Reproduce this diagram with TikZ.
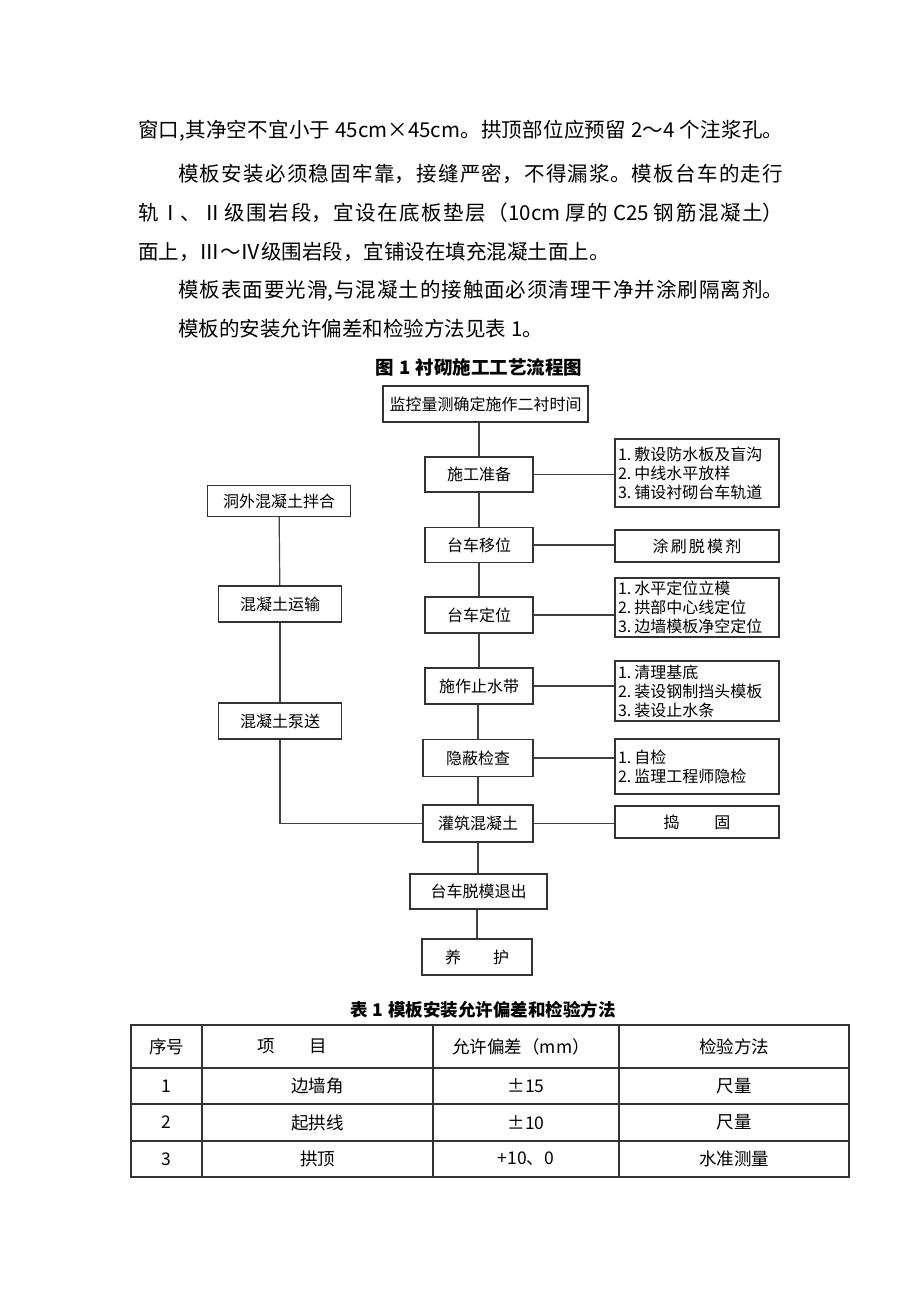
\documentclass[tikz,border=0pt]{standalone}
\usepackage{fontspec}
\setmainfont{Noto Sans CJK SC}
\usetikzlibrary{positioning}
\XeTeXlinebreaklocale "zh"
\XeTeXlinebreakskip=0pt plus 2pt

\newcommand{\fullline}[2]{\parbox{#1}{\parfillskip=0pt\relax #2}}
\newcommand{\gap}{\hspace{5pt}}

\begin{document}
\begin{tikzpicture}[
        x=1pt, y=-1pt,
        box/.style={rectangle, draw=black!80, line width=1.2pt, align=center,
            font=\fontsize{16}{19}\selectfont, inner sep=2pt},
        sidebox/.style={box, minimum width=164pt, text width=158pt, align=left},
        link/.style={draw=black!75, line width=1.2pt},
        body/.style={anchor=west, inner sep=0pt, font=\fontsize{20.5}{24}\selectfont},
        cell/.style={inner sep=0pt, font=\fontsize{17.5}{20}\selectfont},
        grid/.style={draw=black!80, line width=1.2pt}
    ]
        \useasboundingbox (0,0) rectangle (920,1302);

        % text above the figure
        \node[body] (p1) at (138,131) {\fullline{645pt}{窗口,其净空不宜小于\gap 45cm×45cm。拱顶部位应预留\gap 2～4\gap 个注浆孔。}};
        \node[body] (p2) at (178,174) {\fullline{605pt}{模板安装必须稳固牢靠，接缝严密，不得漏浆。模板台车的走行}};
        \node[body] (p3) at (138,213) {\fullline{645pt}{轨Ⅰ、Ⅱ级围岩段，宜设在底板垫层（10cm\gap 厚的\gap C25\gap 钢筋混凝土）}};
        \node[body] (p4) at (138,252) {面上，Ⅲ～Ⅳ级围岩段，宜铺设在填充混凝土面上。};
        \node[body] (p5) at (178,291) {\fullline{605pt}{模板表面要光滑,与混凝土的接触面必须清理干净并涂刷隔离剂。}};
        \node[body] (p6) at (178,329) {模板的安装允许偏差和检验方法见表\gap 1。};

        % flow chart
        \node[font=\bfseries\fontsize{18.5}{22}\selectfont] (title) at (479,367) {图\gap 1\gap 衬砌施工工艺流程图};

        \node[box, minimum width=205pt, minimum height=36pt] (n1) at (485.5,404) {监控量测确定施作二衬时间};
        \node[box, minimum width=108pt, minimum height=35pt] (n2) at (479,474.5) {施工准备};
        \node[box, minimum width=108pt, minimum height=35pt] (n3) at (479,545) {台车移位};
        \node[box, minimum width=108pt, minimum height=36pt] (n4) at (479,615) {台车定位};
        \node[box, minimum width=108pt, minimum height=36pt] (n5) at (479,686) {施作止水带};
        \node[box, minimum width=110pt, minimum height=37pt] (n6) at (478,758) {隐蔽检查};
        \node[box, minimum width=110pt, minimum height=37pt] (n7) at (478,823.5) {灌筑混凝土};
        \node[box, minimum width=137pt, minimum height=35pt] (n8) at (478.5,891.5) {台车脱模退出};
        \node[box, minimum width=110pt, minimum height=36pt] (n9) at (477,957) {养　　护};

        \node[box, minimum width=143pt, minimum height=31pt] (l1) at (279,501) {洞外混凝土拌合};
        \node[box, minimum width=123pt, minimum height=36pt] (l2) at (280,604) {混凝土运输};
        \node[box, minimum width=123pt, minimum height=36pt] (l3) at (280,721) {混凝土泵送};

        \node[sidebox, minimum height=68pt] (r1) at (697,473) {1.\hspace{3pt}敷设防水板及盲沟\\2.\hspace{3pt}中线水平放样\\3.\hspace{3pt}铺设衬砌台车轨道};
        \node[sidebox, align=center, minimum height=32pt] (r2) at (697,546) {涂刷脱模剂};
        \node[sidebox, minimum height=59pt] (r3) at (697,607.5) {1.\hspace{3pt}水平定位立模\\2.\hspace{3pt}拱部中心线定位\\3.\hspace{3pt}边墙模板净空定位};
        \node[sidebox, minimum height=60pt] (r4) at (697,691) {1.\hspace{3pt}清理基底\\2.\hspace{3pt}装设钢制挡头模板\\3.\hspace{3pt}装设止水条};
        \node[sidebox, minimum height=55pt] (r5) at (697,766.5) {1.\hspace{3pt}自检\\2.\hspace{3pt}监理工程师隐检};
        \node[sidebox, align=center, minimum height=32pt] (r6) at (697,822) {捣　　固};

        \draw[link] (n1.south -| n2) -- (n2);
        \draw[link] (n2) -- (n3);
        \draw[link] (n3) -- (n4);
        \draw[link] (n4) -- (n5);
        \draw[link] (n5.south -| n6) -- (n6);
        \draw[link] (n6) -- (n7);
        \draw[link] (n7) -- (n7 |- n8.north);
        \draw[link] (n8.south -| n9) -- (n9);

        \draw[link] (l1) -- (l2);
        \draw[link] (l2) -- (l3);
        \draw[link] (l3) |- (n7);

        \draw[link] (n2.east) -- (n2.east -| r1.west);
        \draw[link] (n3.east) -- (n3.east -| r2.west);
        \draw[link] (n4.east) -- (n4.east -| r3.west);
        \draw[link] (n5.east) -- (n5.east -| r4.west);
        \draw[link] (n6.east) -- (n6.east -| r5.west);
        \draw[link] (n7.east) -- (n7.east -| r6.west);

        % table
        \node[font=\bfseries\fontsize{17.5}{20}\selectfont] (tabtitle) at (483,1010) {表\gap 1\gap 模板安装允许偏差和检验方法};

        \draw[grid] (131,1025) rectangle (849,1177);
        \draw[grid] (131,1068) -- (849,1068);
        \draw[grid] (131,1104) -- (849,1104);
        \draw[grid] (131,1141) -- (849,1141);
        \draw[grid] (202,1025) -- (202,1177);
        \draw[grid] (433,1025) -- (433,1177);
        \draw[grid] (619,1025) -- (619,1177);

        \node[cell] (h1) at (166.5,1046.5) {序号};
        \node[cell] (h2) at (292,1046.5) {项　　目};
        \node[cell] (h3) at (521,1046.5) {允许偏差（mm）};
        \node[cell] (h4) at (734,1046.5) {检验方法};

        \node[cell] (a1) at (166.5,1086) {1};
        \node[cell] (a2) at (317.5,1086) {边墙角};
        \node[cell] (a3) at (526,1086) {±15};
        \node[cell] (a4) at (734,1086) {尺量};

        \node[cell] (b1) at (166.5,1122.5) {2};
        \node[cell] (b2) at (317.5,1122.5) {起拱线};
        \node[cell] (b3) at (526,1122.5) {±10};
        \node[cell] (b4) at (734,1122.5) {尺量};

        \node[cell] (c1) at (166.5,1159) {3};
        \node[cell] (c2) at (317.5,1159) {拱顶};
        \node[cell] (c3) at (526,1159) {+10、0};
        \node[cell] (c4) at (734,1159) {水准测量};
    \end{tikzpicture}
\end{document}
